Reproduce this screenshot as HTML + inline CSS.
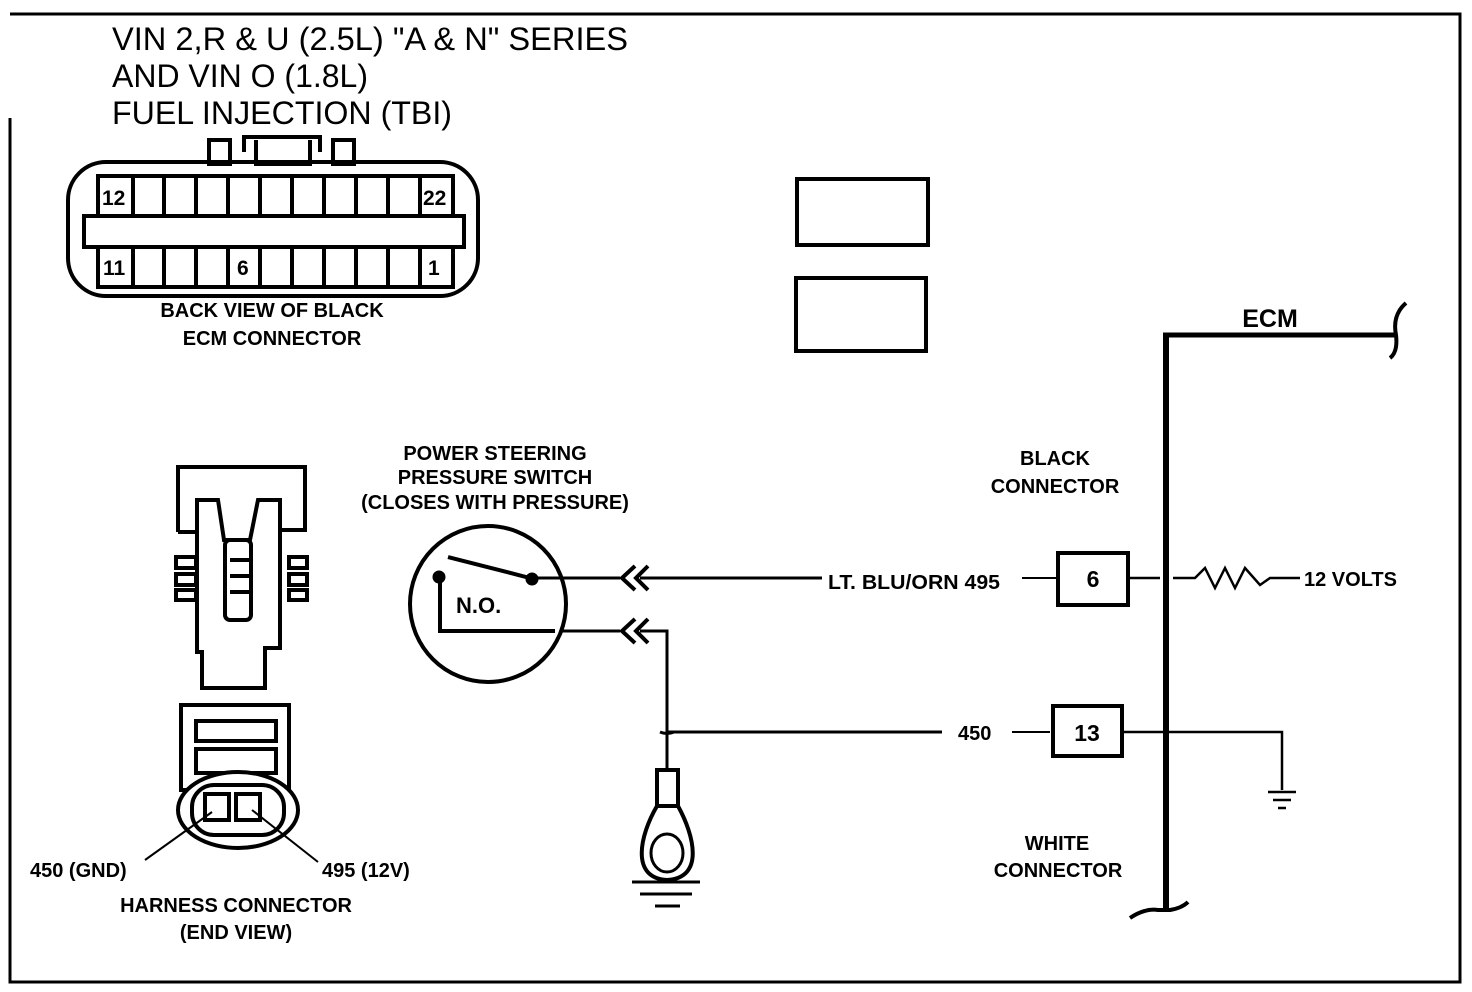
<!DOCTYPE html>
<html><head><meta charset="utf-8"><style>
html,body{margin:0;padding:0;background:#fff}
svg{display:block}
text{font-family:"Liberation Sans",sans-serif;fill:#000}
.b{font-weight:bold;font-size:20px}
</style></head><body>
<svg width="1472" height="992" viewBox="0 0 1472 992" xmlns="http://www.w3.org/2000/svg" fill="none" stroke="#000">
<!-- frame -->
<path d="M10 14 H1460 V982 H10 V118" stroke-width="3"/>
<!-- title -->
<g stroke="none" font-size="32" textLength="">
<text x="112" y="50" textLength="516" lengthAdjust="spacingAndGlyphs">VIN 2,R &amp; U (2.5L) "A &amp; N" SERIES</text>
<text x="112" y="87" textLength="256" lengthAdjust="spacingAndGlyphs">AND VIN O (1.8L)</text>
<text x="112" y="124" textLength="340" lengthAdjust="spacingAndGlyphs">FUEL INJECTION (TBI)</text>
</g>
<!-- ECM connector -->
<rect x="68" y="162" width="410" height="134" rx="38" stroke-width="4"/>
<rect x="209" y="140" width="21" height="24" stroke-width="4"/>
<rect x="333" y="140" width="21" height="24" stroke-width="4"/>
<path d="M244 152 V137 H320 V152 M256 140 V164 H310 V140" stroke-width="4"/>
<rect x="98" y="176" width="355" height="40" stroke-width="4"/>
<rect x="98" y="247" width="355" height="40" stroke-width="4"/>
<rect x="84" y="216" width="380" height="31" stroke-width="4"/>
<g stroke-width="4">
<path d="M133 176V216M164 176V216M196 176V216M228 176V216M260 176V216M292 176V216M324 176V216M356 176V216M388 176V216M420 176V216"/>
<path d="M133 247V287M164 247V287M196 247V287M228 247V287M260 247V287M292 247V287M324 247V287M356 247V287M388 247V287M420 247V287"/>
</g>
<g stroke="none">
<text x="102" y="205" style="font-weight:bold;font-size:21px">12</text>
<text x="423" y="205" style="font-weight:bold;font-size:21px">22</text>
<text x="103" y="275" style="font-weight:bold;font-size:21px">11</text>
<text x="237" y="275" style="font-weight:bold;font-size:21px">6</text>
<text x="428" y="275" style="font-weight:bold;font-size:21px">1</text>
<text x="272" y="317" text-anchor="middle" class="b">BACK VIEW OF BLACK</text>
<text x="272" y="345" text-anchor="middle" class="b">ECM CONNECTOR</text>
</g>
<!-- rectangles -->
<rect x="797" y="179" width="131" height="66" stroke-width="4"/>
<rect x="796" y="278" width="130" height="73" stroke-width="4"/>
<!-- harness connector top -->
<path d="M178 532 V467 H305 V530 H282" stroke-width="4"/>
<path d="M178 532 H197" stroke-width="4"/>
<path d="M197 500 H218 L224 540 H250 L258 500 H280 V648 H265 V688 H202 V652 H197 Z" stroke-width="4"/>
<rect x="225" y="540" width="26" height="80" rx="5" stroke-width="4"/>
<g stroke-width="4">
<rect x="176" y="557" width="20" height="11"/><rect x="176" y="574" width="20" height="11"/><rect x="176" y="590" width="20" height="10"/>
<rect x="289" y="557" width="18" height="11"/><rect x="289" y="574" width="18" height="11"/><rect x="289" y="590" width="18" height="10"/>
<path d="M230 560H250M230 576H250M230 592H250"/>
</g>
<!-- harness lower -->
<rect x="181" y="705" width="108" height="85" stroke-width="4"/>
<rect x="196" y="721" width="80" height="20" stroke-width="4"/>
<rect x="196" y="749" width="80" height="24" stroke-width="4"/>
<ellipse cx="238" cy="810" rx="60" ry="38" fill="#fff" stroke-width="4"/>
<rect x="192" y="785" width="92" height="50" rx="22" stroke-width="4"/>
<rect x="205" y="794" width="24" height="26" stroke-width="4"/>
<rect x="236" y="794" width="24" height="26" stroke-width="4"/>
<path d="M212 812 L145 860 M252 810 L318 862" stroke-width="2"/>
<g stroke="none">
<text x="30" y="877" class="b">450 (GND)</text>
<text x="322" y="877" class="b">495 (12V)</text>
<text x="236" y="912" text-anchor="middle" class="b">HARNESS CONNECTOR</text>
<text x="236" y="939" text-anchor="middle" class="b">(END VIEW)</text>
<text x="495" y="460" text-anchor="middle" class="b">POWER STEERING</text>
<text x="495" y="484" text-anchor="middle" class="b">PRESSURE SWITCH</text>
<text x="495" y="509" text-anchor="middle" class="b">(CLOSES WITH PRESSURE)</text>
</g>
<!-- switch -->
<circle cx="488" cy="604" r="78" stroke-width="4"/>
<path d="M448 557 L530 578" stroke-width="4"/>
<circle cx="532" cy="579" r="6" fill="#000"/>
<circle cx="439" cy="577" r="6" fill="#000"/>
<path d="M440 578 V631 H555" stroke-width="4"/>
<text x="456" y="613" stroke="none" style="font-weight:bold;font-size:22px">N.O.</text>
<path d="M535 578 H620 M640 578 H822" stroke-width="3"/>
<path d="M635 566 L622 578 L635 590 M648 566 L636 578 L648 590" stroke-width="4"/>
<path d="M560 631 H620 M640 631 H667 V770" stroke-width="3"/>
<path d="M635 619 L622 631 L635 643 M648 619 L636 631 L648 643" stroke-width="4"/>
<path d="M660 732 Q667 735 674 732 M667 732 H942" stroke-width="3"/>
<!-- ring terminal -->
<rect x="657" y="770" width="21" height="36" stroke-width="4"/>
<path d="M657 806 C640 835 630 878 667 880 C705 878 694 835 678 806" stroke-width="4"/>
<ellipse cx="667" cy="853" rx="16" ry="19" stroke-width="3"/>
<path d="M632 882H700M640 894H692M655 906H680" stroke-width="3"/>
<!-- labels -->
<g stroke="none">
<text x="828" y="589" class="b" textLength="172" lengthAdjust="spacingAndGlyphs">LT. BLU/ORN 495</text>
<text x="958" y="740" class="b">450</text>
<text x="1055" y="465" text-anchor="middle" class="b">BLACK</text>
<text x="1055" y="493" text-anchor="middle" class="b">CONNECTOR</text>
<text x="1057" y="850" text-anchor="middle" class="b">WHITE</text>
<text x="1058" y="877" text-anchor="middle" class="b">CONNECTOR</text>
<text x="1270" y="327" text-anchor="middle" style="font-weight:bold;font-size:25px">ECM</text>
<text x="1304" y="586" class="b">12 VOLTS</text>
<text x="1093" y="587" text-anchor="middle" style="font-weight:bold;font-size:23px">6</text>
<text x="1087" y="741" text-anchor="middle" style="font-weight:bold;font-size:23px">13</text>
</g>
<path d="M1022 578 H1056 M1012 732 H1050" stroke-width="2"/>
<rect x="1058" y="553" width="70" height="52" stroke-width="4"/>
<rect x="1053" y="706" width="69" height="50" stroke-width="4"/>
<path d="M1128 578 H1160 M1173 578 H1195 L1205 568 L1215 588 L1225 568 L1235 588 L1245 568 L1260 585 L1270 578 H1300" stroke-width="2.5"/>
<path d="M1122 732 H1282 V790" stroke-width="2.5"/>
<path d="M1268 792H1296M1273 800H1291M1278 808H1286" stroke-width="2.5"/>
<path d="M1166 335 V910" stroke-width="6"/>
<path d="M1163 335 H1396" stroke-width="5"/>
<path d="M1406 303 Q1392 315 1396 335 Q1398 352 1390 358" stroke-width="4"/>
<path d="M1130 918 Q1145 908 1158 910 L1170 910 Q1182 908 1188 902" stroke-width="4"/>
</svg>
</body></html>
